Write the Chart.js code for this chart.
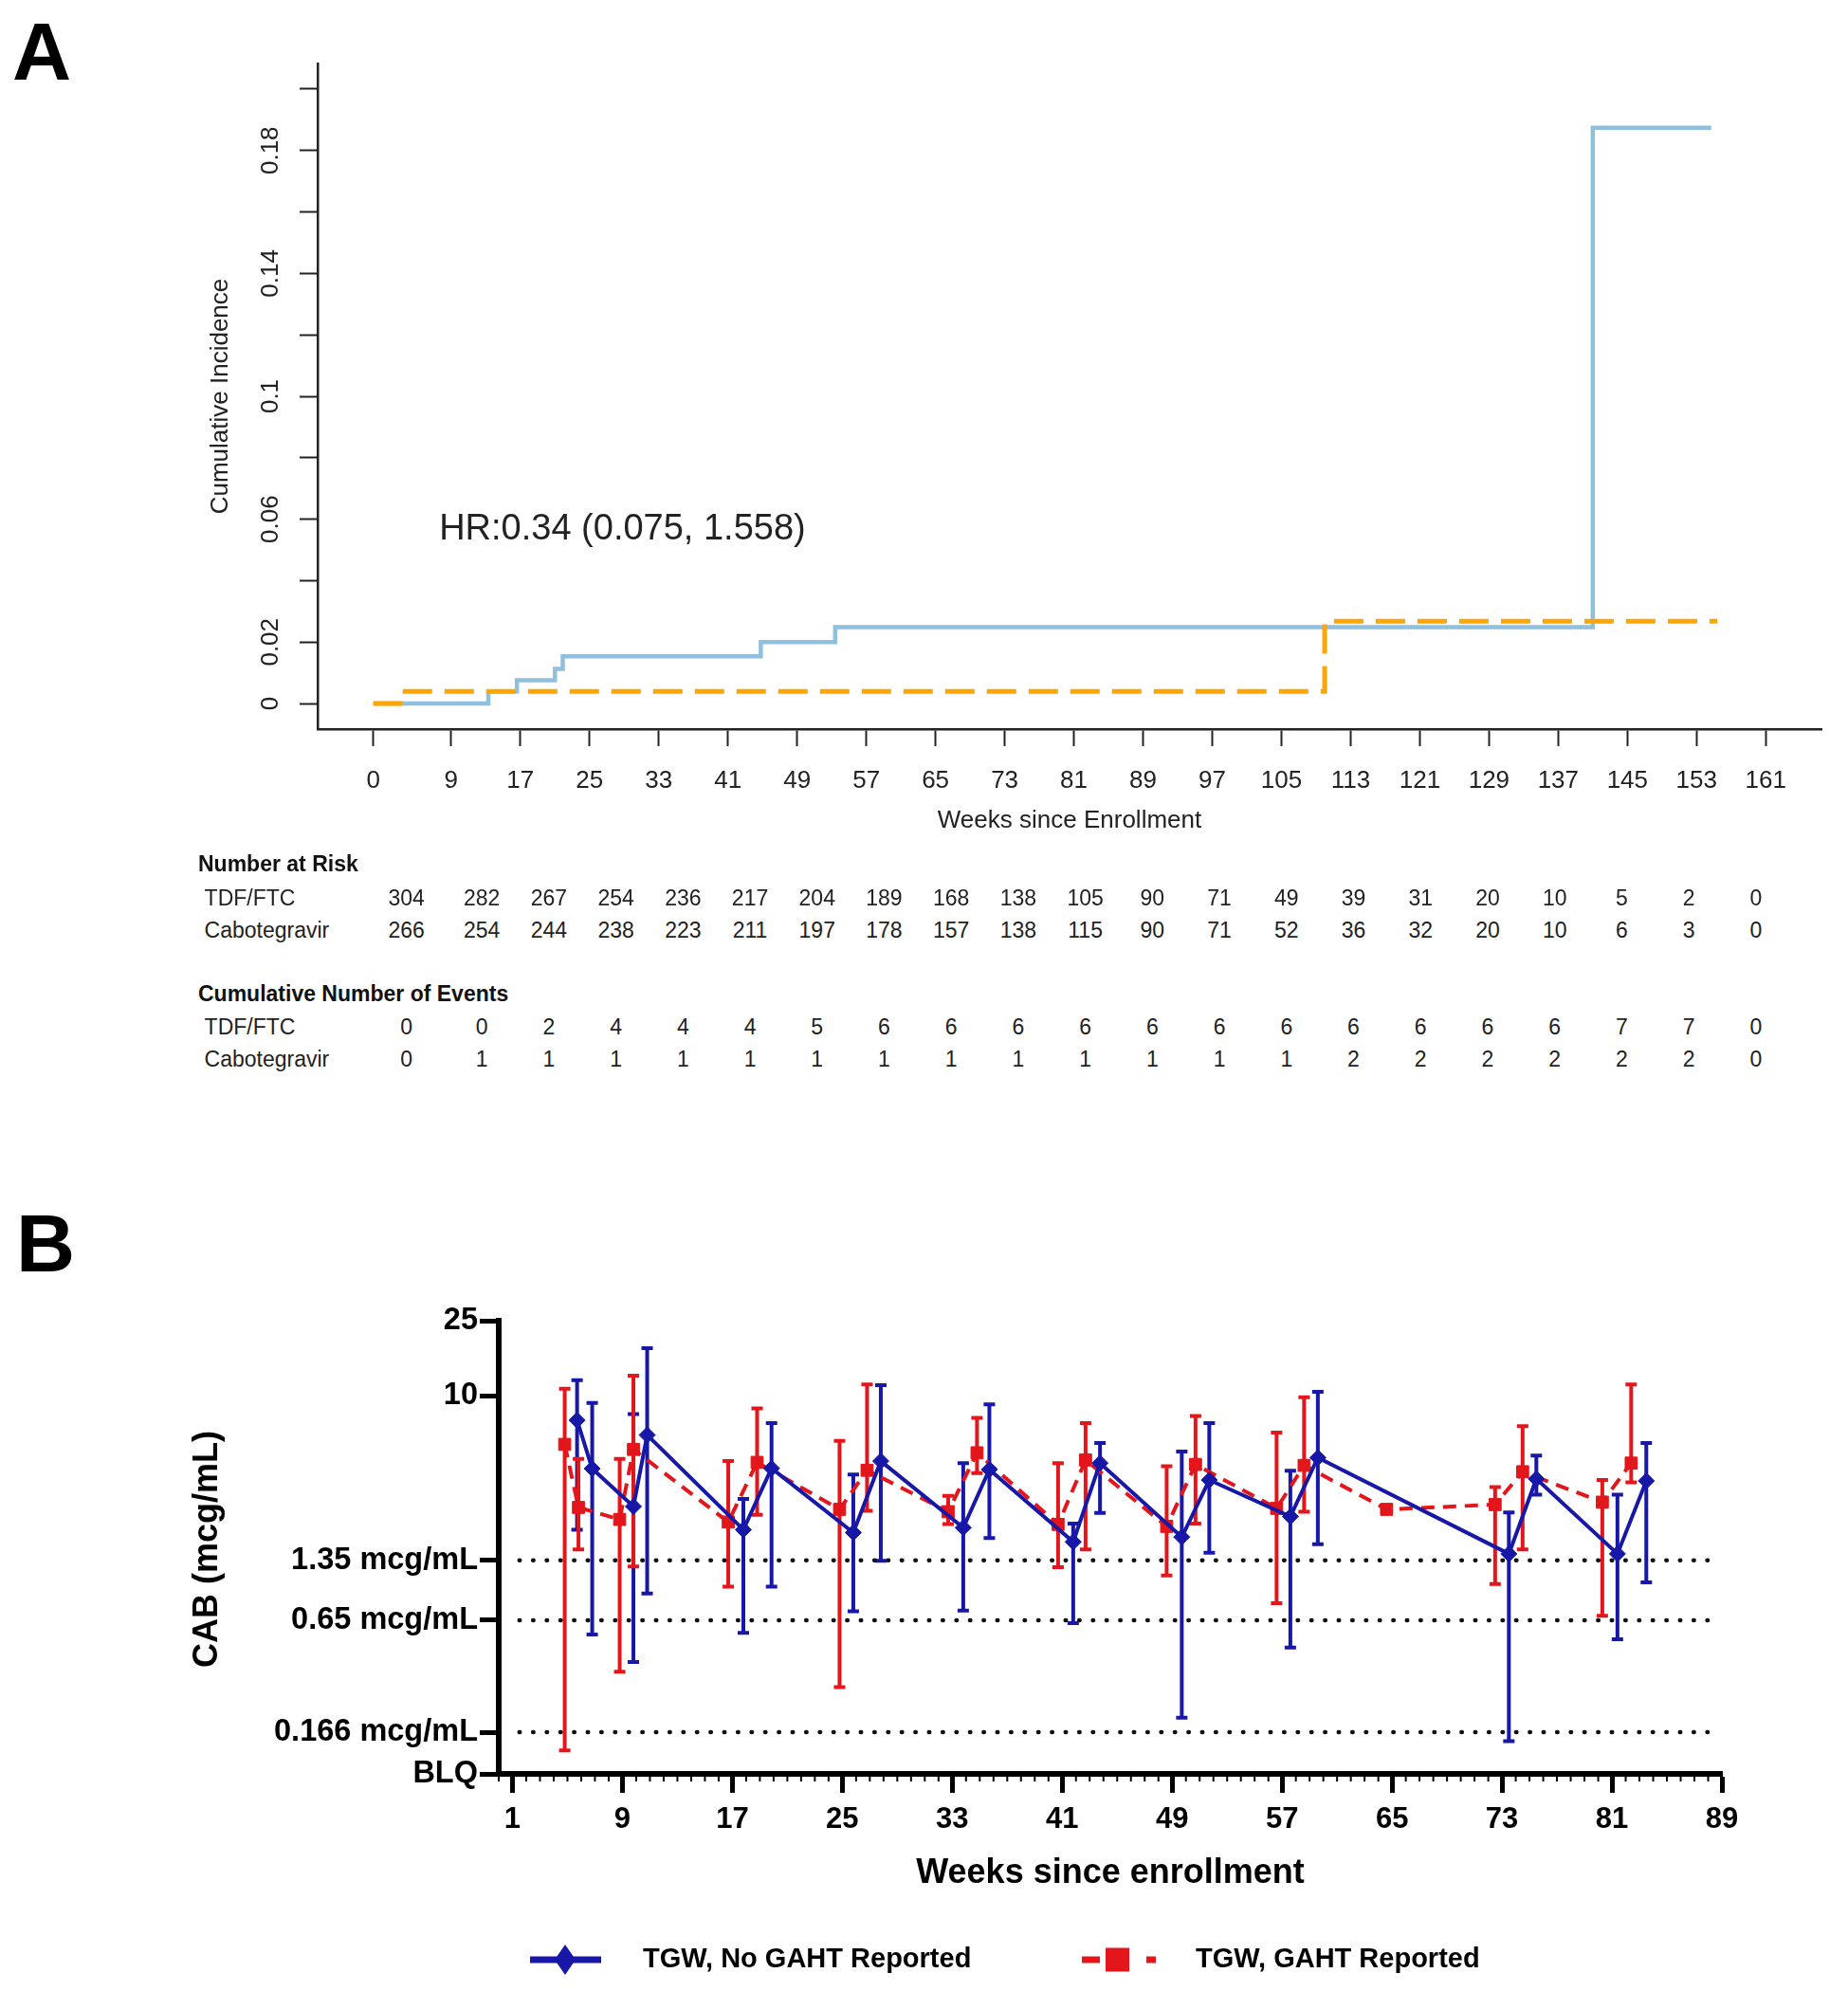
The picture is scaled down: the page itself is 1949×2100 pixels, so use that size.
<!DOCTYPE html>
<html><head><meta charset="utf-8">
<script src="https://cdn.jsdelivr.net/npm/chart.js@4.4.1/dist/chart.umd.min.js"></script>
<style>
html,body{margin:0;padding:0;background:#fff;}
body{width:1949px;height:2100px;position:relative;overflow:hidden;font-family:"Liberation Sans",Arial,Helvetica,sans-serif;}
#cA{position:absolute;left:0;top:0;}
#cB{position:absolute;left:0;top:1300px;}
.panel{position:absolute;font-weight:bold;font-size:86px;line-height:86px;color:#000;}
.tb{position:absolute;font-size:23px;line-height:23px;color:#222;white-space:nowrap;}
.tb.h{font-weight:bold;color:#111;}
.tb.n{transform:translate(-50%,-50%);}
.tb.l{transform:translateY(-50%);}
</style></head><body>
<canvas id="cA" width="1949" height="900"></canvas>
<canvas id="cB" width="1949" height="800"></canvas>
<div class="panel" style="left:13px;top:11px">A</div>
<div class="panel" style="left:17px;top:1268px">B</div>
<div id="riskTable"></div>
<script>
const FONT = '"Liberation Sans", Arial, Helvetica, sans-serif';

// ---------- Panel A data ----------
const weekTicksA = [0,9,17,25,33,41,49,57,65,73,81,89,97,105,113,121,129,137,145,153,161];
const incTicksA = [0,0.02,0.04,0.06,0.08,0.10,0.12,0.14,0.16,0.18,0.20];
const incLabelValsA = [0,0.02,0.06,0.1,0.14,0.18];
const incLabelTextA = ['0','0.02','0.06','0.1','0.14','0.18'];
const tdfWeeks = [0, 13.3, 16.6, 21.0, 21.9, 44.8, 53.4, 141.0, 154.7];
const tdfInc   = [0, 0.0040, 0.0076, 0.0113, 0.0154, 0.0200, 0.0249, 0.1874, 0.1874];
const cabWeeks = [0, 3.1, 110.0, 155.4];
const cabInc   = [0, 0.0040, 0.0268, 0.0268];
const hrText = 'HR:0.34 (0.075, 1.558)';
const riskWeeks = weekTicksA;
const riskTDF = [304,282,267,254,236,217,204,189,168,138,105,90,71,49,39,31,20,10,5,2,0];
const riskCAB = [266,254,244,238,223,211,197,178,157,138,115,90,71,52,36,32,20,10,6,3,0];
const eventsTDF = [0,0,2,4,4,4,5,6,6,6,6,6,6,6,6,6,6,6,7,7,0];
const eventsCAB = [0,1,1,1,1,1,1,1,1,1,1,1,1,1,2,2,2,2,2,2,0];

// ---------- Panel B data ----------
const weekTicksB = [1,9,17,25,33,41,49,57,65,73,81,89];
const concTicksB = [0.1,0.166,0.65,1.35,10,25];
const concTickLabelsB = ['BLQ','0.166 mcg/mL','0.65 mcg/mL','1.35 mcg/mL','10','25'];
const refLevelsB = [1.35,0.65,0.166];
const refSpanB = [1.5,88.5];

const noGahtWeeks = [5.7,6.8,9.8,10.8,17.8,19.85,25.8,27.8,33.8,35.7,41.8,43.75,49.7,51.7,57.6,59.6,73.5,75.5,81.4,83.5];
const noGahtMean  = [7.44,4.12,2.6,6.21,1.96,4.14,1.89,4.52,2.01,4.08,1.69,4.41,1.79,3.59,2.3,4.71,1.46,3.64,1.46,3.55];
const noGahtLow   = [1.96,0.546,0.391,0.90,0.557,0.98,0.724,1.34,0.731,1.77,0.627,2.4,0.198,1.48,0.466,1.64,0.149,3.0,0.516,1.03];
const noGahtHigh  = [12.1,9.17,8.02,17.9,2.85,7.17,3.84,11.4,4.41,9.02,2.11,5.64,5.08,7.17,4.02,10.5,2.42,4.83,3.0,5.64];

const gahtWeeks = [4.8,5.8,8.8,9.8,16.7,18.8,24.8,26.8,32.7,34.8,40.7,42.7,48.6,50.7,56.6,58.6,64.6,72.5,74.5,80.3,82.4];
const gahtMean  = [5.54,2.57,2.22,5.21,2.15,4.45,2.51,4.04,2.44,5.0,2.09,4.58,2.04,4.34,2.54,4.29,2.51,2.66,3.97,2.74,4.41];
const gahtLow   = [0.133,1.54,0.347,1.25,0.98,2.35,0.288,2.47,2.1,3.9,1.24,1.54,1.12,2.11,0.80,2.44,null,1.01,1.54,0.687,3.49];
const gahtHigh  = [10.9,4.64,4.64,12.8,4.52,8.58,5.78,11.5,2.96,7.66,4.41,7.17,4.25,7.82,6.4,9.85,null,3.29,6.92,3.59,11.5];

Chart.defaults.font.family = FONT;

// ---------- Panel A chart ----------
const pluginA = {
  id: 'kmExtras',
  afterDraw(chart) {
    const {ctx, chartArea, scales: {x, y}} = chart;
    ctx.save();
    ctx.fillStyle = '#222';
    ctx.textAlign = 'center';
    ctx.textBaseline = 'middle';
    ctx.font = '26px ' + FONT;
    incLabelValsA.forEach((v, i) => {
      ctx.save();
      ctx.translate(286, y.getPixelForValue(v));
      ctx.rotate(-Math.PI / 2);
      ctx.fillText(incLabelTextA[i], 0, 0);
      ctx.restore();
    });
    ctx.save();
    ctx.translate(233, (chartArea.top + chartArea.bottom) / 2);
    ctx.rotate(-Math.PI / 2);
    ctx.fillText('Cumulative Incidence', 0, 0);
    ctx.restore();
    ctx.fillText('Weeks since Enrollment', (chartArea.left + chartArea.right) / 2, 866);
    ctx.font = '38px ' + FONT;
    ctx.fillText(hrText, x.getPixelForValue(28.8), y.getPixelForValue(0.0565));
    ctx.restore();
  }
};

new Chart(document.getElementById('cA'), {
  type: 'line',
  data: {
    datasets: [
      { label: 'Cabotegravir', data: cabWeeks.map((w, i) => ({x: w, y: cabInc[i]})),
        borderColor: '#FFA500', borderWidth: 5, borderDash: [31, 13], stepped: 'before',
        pointRadius: 0, fill: false, order: 0 },
      { label: 'TDF/FTC', data: tdfWeeks.map((w, i) => ({x: w, y: tdfInc[i]})),
        borderColor: '#8FC0DD', borderWidth: 4.5, stepped: 'before',
        pointRadius: 0, fill: false, order: 1 }
    ]
  },
  options: {
    responsive: false, animation: false, devicePixelRatio: 1,
    layout: { padding: { left: 0, right: 28, top: 67, bottom: 0 } },
    plugins: { legend: { display: false }, tooltip: { enabled: false } },
    scales: {
      x: {
        type: 'linear', min: -6.44, max: 167.44,
        afterBuildTicks: s => { s.ticks = weekTicksA.map(v => ({value: v})); },
        afterFit: s => { s.height = 131; },
        grid: { drawOnChartArea: false, drawTicks: true, tickLength: 18, tickWidth: 2, tickColor: '#222' },
        border: { display: true, color: '#222', width: 2.5 },
        ticks: { font: { size: 26 }, color: '#222', padding: 21, maxRotation: 0, autoSkip: false,
                 callback: v => String(v) }
      },
      y: {
        type: 'linear', min: -0.0083, max: 0.2083,
        afterBuildTicks: s => { s.ticks = incTicksA.map(v => ({value: v})); },
        afterFit: s => { s.width = 335; },
        grid: { drawOnChartArea: false, drawTicks: true, tickLength: 19, tickWidth: 2, tickColor: '#222' },
        border: { display: true, color: '#222', width: 2.5 },
        ticks: { callback: () => '', autoSkip: false }
      }
    }
  },
  plugins: [pluginA]
});

// ---------- Risk table (HTML text) ----------
(function () {
  const host = document.getElementById('riskTable');
  const colX = t => 428.6 + t * 8.84;
  function put(txt, x, y, cls) {
    const d = document.createElement('div');
    d.className = 'tb ' + cls;
    d.style.left = x + 'px';
    d.style.top = y + 'px';
    d.textContent = txt;
    host.appendChild(d);
  }
  put('Number at Risk', 209, 911, 'h l');
  put('Cumulative Number of Events', 209, 1048, 'h l');
  const rows = [
    ['TDF/FTC', riskTDF, 947], ['Cabotegravir', riskCAB, 981],
    ['TDF/FTC', eventsTDF, 1083], ['Cabotegravir', eventsCAB, 1117]
  ];
  rows.forEach(([name, vals, y]) => {
    put(name, 215.6, y, 'l');
    vals.forEach((v, i) => put(String(v), colX(riskWeeks[i]), y, 'n'));
  });
})();

// ---------- Panel B chart ----------
const BLUE = '#1818A8';
const RED = '#E2161B';
const pluginB = {
  id: 'cabExtras',
  beforeDatasetsDraw(chart) {
    const {ctx, scales: {x, y}} = chart;
    ctx.save();
    chart.data.datasets.forEach(ds => {
      if (!ds.errLow) return;
      ctx.strokeStyle = ds.borderColor;
      ctx.lineWidth = 4;
      ctx.setLineDash([]);
      ds.data.forEach((p, i) => {
        const lo = ds.errLow[i], hi = ds.errHigh[i];
        if (lo == null || hi == null) return;
        const px = x.getPixelForValue(p.x);
        const y1 = y.getPixelForValue(lo), y2 = y.getPixelForValue(hi);
        ctx.beginPath();
        ctx.moveTo(px, y1); ctx.lineTo(px, y2);
        ctx.moveTo(px - 6, y1); ctx.lineTo(px + 6, y1);
        ctx.moveTo(px - 6, y2); ctx.lineTo(px + 6, y2);
        ctx.stroke();
      });
    });
    ctx.restore();
  },
  afterDraw(chart) {
    const {ctx, chartArea, scales: {x}} = chart;
    ctx.save();
    // minor ticks
    ctx.strokeStyle = '#000';
    ctx.lineWidth = 2;
    ctx.beginPath();
    for (let w = Math.ceil(x.min); w <= x.max; w++) {
      if (weekTicksB.includes(w)) continue;
      const px = x.getPixelForValue(w);
      ctx.moveTo(px, chartArea.bottom + 2);
      ctx.lineTo(px, chartArea.bottom + 8);
    }
    ctx.stroke();
    // titles
    ctx.fillStyle = '#000';
    ctx.textAlign = 'center';
    ctx.textBaseline = 'middle';
    ctx.font = 'bold 36px ' + FONT;
    ctx.fillText('Weeks since enrollment', (chartArea.left + chartArea.right) / 2, 676);
    ctx.save();
    ctx.translate(219, 334);
    ctx.rotate(-Math.PI / 2);
    ctx.fillText('CAB (mcg/mL)', 0, 0);
    ctx.restore();
    // legend
    const ly = 767;
    const blueDs = chart.data.datasets[0], redDs = chart.data.datasets[1];
    ctx.lineCap = 'butt';
    ctx.strokeStyle = blueDs.borderColor;
    ctx.lineWidth = 7;
    ctx.beginPath(); ctx.moveTo(559, ly); ctx.lineTo(634, ly); ctx.stroke();
    ctx.fillStyle = blueDs.borderColor;
    ctx.beginPath();
    ctx.moveTo(596, ly - 16); ctx.lineTo(607, ly); ctx.lineTo(596, ly + 16); ctx.lineTo(585, ly);
    ctx.closePath(); ctx.fill();
    ctx.strokeStyle = redDs.borderColor;
    ctx.lineWidth = 7;
    ctx.beginPath();
    ctx.moveTo(1141, ly); ctx.lineTo(1160, ly);
    ctx.moveTo(1209, ly); ctx.lineTo(1219, ly);
    ctx.stroke();
    ctx.fillStyle = redDs.borderColor;
    ctx.fillRect(1166, ly - 12.5, 25, 25);
    ctx.fillStyle = '#000';
    ctx.textAlign = 'left';
    ctx.font = 'bold 29px ' + FONT;
    ctx.fillText(blueDs.label, 678, ly);
    ctx.fillText(redDs.label, 1261, ly);
    ctx.restore();
  }
};

const refDatasets = refLevelsB.map(v => ({
  label: 'ref ' + v,
  data: [{x: refSpanB[0], y: v}, {x: refSpanB[1], y: v}],
  borderColor: '#111', borderWidth: 4.5, borderDash: [0.5, 13.9], borderCapStyle: 'round',
  pointRadius: 0, fill: false, order: 3
}));

new Chart(document.getElementById('cB'), {
  type: 'line',
  data: {
    datasets: [
      { label: 'TGW, No GAHT Reported',
        data: noGahtWeeks.map((w, i) => ({x: w, y: noGahtMean[i]})),
        errLow: noGahtLow, errHigh: noGahtHigh,
        borderColor: BLUE, borderWidth: 4, tension: 0,
        pointStyle: 'rectRot', pointRadius: 8.5, pointBackgroundColor: BLUE, pointBorderColor: BLUE,
        pointBorderWidth: 1, fill: false, order: 0 },
      { label: 'TGW, GAHT Reported',
        data: gahtWeeks.map((w, i) => ({x: w, y: gahtMean[i]})),
        errLow: gahtLow, errHigh: gahtHigh,
        borderColor: RED, borderWidth: 4, borderDash: [14, 9], tension: 0,
        pointStyle: 'rect', pointRadius: 9, pointBackgroundColor: RED, pointBorderColor: RED,
        pointBorderWidth: 1, fill: false, order: 1 },
      ...refDatasets
    ]
  },
  options: {
    responsive: false, animation: false, devicePixelRatio: 1,
    layout: { padding: { left: 0, right: 133, top: 93, bottom: 0 } },
    plugins: { legend: { display: false }, tooltip: { enabled: false } },
    scales: {
      x: {
        type: 'linear', min: 0, max: 89,
        afterBuildTicks: s => { s.ticks = weekTicksB.map(v => ({value: v})); },
        afterFit: s => { s.height = 229; },
        grid: { drawOnChartArea: false, drawTicks: true, tickLength: 20, tickWidth: 5, tickColor: '#000' },
        border: { display: true, color: '#000', width: 6 },
        ticks: { font: { size: 31, weight: 'bold' }, color: '#000', padding: 10, maxRotation: 0, autoSkip: false,
                 callback: v => String(v) }
      },
      y: {
        type: 'logarithmic', min: 0.1, max: 25,
        afterBuildTicks: s => { s.ticks = concTicksB.map(v => ({value: v})); },
        afterFit: s => { s.width = 526; },
        grid: { drawOnChartArea: false, drawTicks: true, tickLength: 20, tickWidth: 5, tickColor: '#000' },
        border: { display: true, color: '#000', width: 6 },
        ticks: { font: { size: 32.5, weight: 'bold' }, color: '#000', padding: 2, autoSkip: false,
                 callback: (v, i) => concTickLabelsB[i] }
      }
    }
  },
  plugins: [pluginB]
});
</script>
</body></html>
